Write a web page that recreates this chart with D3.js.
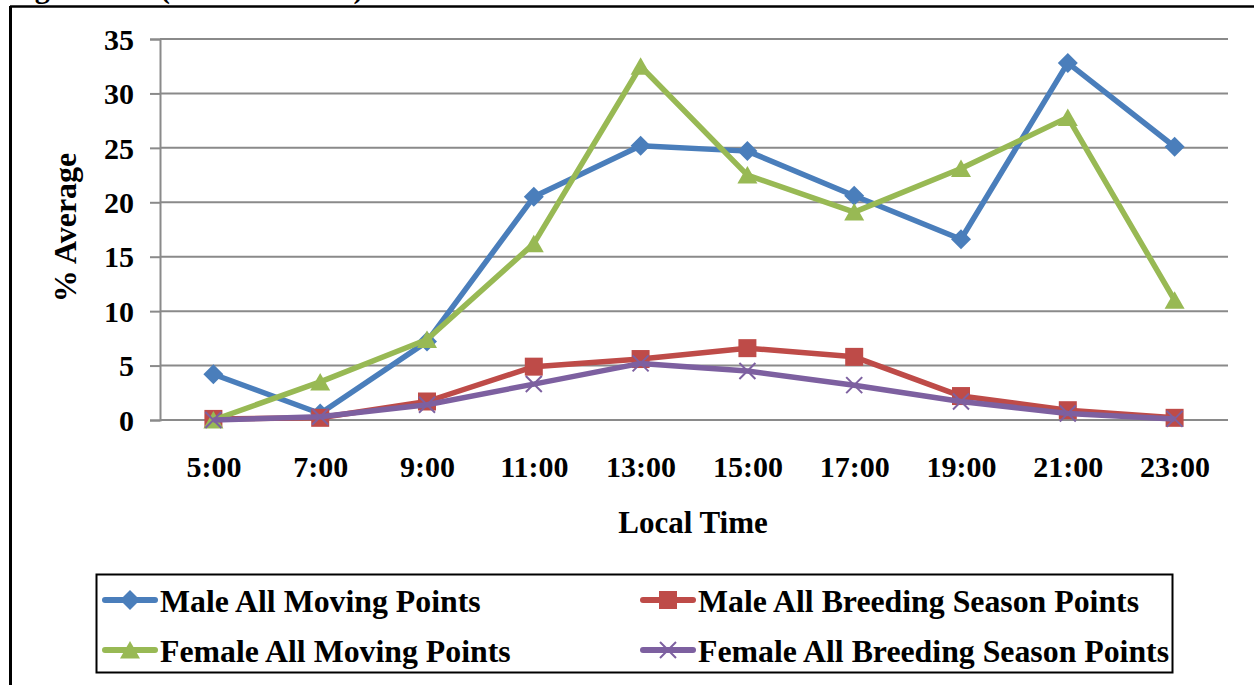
<!DOCTYPE html>
<html>
<head>
<meta charset="utf-8">
<script src="https://cdn.jsdelivr.net/npm/d3@7"></script>
<style>
  html, body { margin: 0; padding: 0; background: #fff; }
  svg { display: block; font-family: "Liberation Serif", "Times New Roman", serif; font-weight: bold; }
</style>
</head>
<body>
<svg id="chart" width="1254" height="685"></svg>
<script>
// Hour-of-day categories (local time)
const times = ["5:00", "7:00", "9:00", "11:00", "13:00", "15:00", "17:00", "19:00", "21:00", "23:00"];

// % average of points per time slot
const maleMoving     = [4.2, 0.6, 7.2, 20.5, 25.2, 24.7, 20.6, 16.6, 32.8, 25.1];
const maleBreeding   = [0.1, 0.2, 1.7, 4.9, 5.6, 6.6, 5.8, 2.2, 0.9, 0.2];
const femaleMoving   = [0.0, 3.5, 7.4, 16.2, 32.5, 22.5, 19.1, 23.1, 27.8, 11.0];
const femaleBreeding = [0.0, 0.3, 1.4, 3.3, 5.2, 4.5, 3.2, 1.7, 0.6, 0.1];

const yTicks = [0, 5, 10, 15, 20, 25, 30, 35];

const seriesNames = [
  "Male All Moving Points",
  "Male All Breeding Season Points",
  "Female All Moving Points",
  "Female All Breeding Season Points"
];

const series = [
  { name: seriesNames[0], values: maleMoving,     color: "#4A7EBB", marker: "diamond" },
  { name: seriesNames[1], values: maleBreeding,   color: "#BE4B48", marker: "square" },
  { name: seriesNames[2], values: femaleMoving,   color: "#98B954", marker: "triangle" },
  { name: seriesNames[3], values: femaleBreeding, color: "#7D60A0", marker: "x" }
];

const svg = d3.select("#chart");

// Caption line above the frame (only its descenders fall inside the page)
svg.append("text")
  .attr("x", 8).attr("y", -2)
  .attr("font-size", 30)
  .attr("fill", "#000")
  .text("Figure 4.12 (Tracked Birds)");

// Outer frame
svg.append("line").attr("x1", 10).attr("x2", 1254).attr("y1", 6.5).attr("y2", 6.5)
  .attr("stroke", "#000").attr("stroke-width", 2.5);
svg.append("line").attr("x1", 10.5).attr("x2", 10.5).attr("y1", 6).attr("y2", 685)
  .attr("stroke", "#000").attr("stroke-width", 3);

const plotLeft = 160, plotRight = 1228, plotTop = 39, plotBottom = 420;

const x = d3.scalePoint().domain(times).range([plotLeft, plotRight]).padding(0.5);
const y = d3.scaleLinear().domain([0, 35]).range([plotBottom, plotTop]);

// Horizontal gridlines
svg.append("g")
  .selectAll("line")
  .data(yTicks)
  .join("line")
  .attr("x1", plotLeft).attr("x2", plotRight)
  .attr("y1", d => y(d)).attr("y2", d => y(d))
  .attr("stroke", "#8A8A8A").attr("stroke-width", 2);

// Y axis with outward ticks
const yAxis = svg.append("g")
  .attr("transform", `translate(${plotLeft},0)`)
  .call(d3.axisLeft(y).tickValues(yTicks).tickSize(10).tickPadding(16).tickFormat(d3.format("d")));
yAxis.select(".domain").attr("stroke", "#8A8A8A").attr("stroke-width", 2);
yAxis.selectAll(".tick line").attr("stroke", "#8A8A8A").attr("stroke-width", 2);
yAxis.selectAll(".tick text")
  .attr("font-size", 30).attr("font-family", "Liberation Serif").attr("font-weight", "bold")
  .attr("fill", "#000").attr("dy", "0.34em");

// X axis labels
const xAxis = svg.append("g")
  .attr("transform", `translate(0,${plotBottom})`)
  .call(d3.axisBottom(x).tickSize(0).tickPadding(36));
xAxis.select(".domain").remove();
xAxis.selectAll(".tick text")
  .attr("font-size", 30).attr("font-family", "Liberation Serif").attr("font-weight", "bold")
  .attr("fill", "#000").attr("dy", "0.71em").attr("y", 36);
// Category axis line
svg.append("line").attr("x1", plotLeft).attr("x2", plotRight).attr("y1", plotBottom).attr("y2", plotBottom)
  .attr("stroke", "#8A8A8A").attr("stroke-width", 2);

// Axis titles
svg.append("text")
  .attr("x", (plotLeft + plotRight) / 2 - 1).attr("y", 533)
  .attr("text-anchor", "middle").attr("font-size", 31)
  .text("Local Time");
svg.append("text")
  .attr("transform", `translate(76,${(plotTop + plotBottom) / 2 - 2}) rotate(-90)`)
  .attr("text-anchor", "middle").attr("font-size", 32)
  .text("% Average");

// Marker shapes, each centred on its data point
function markerPath(type) {
  switch (type) {
    case "diamond": return "M0,-10L10,0L0,10L-10,0Z";
    case "square": return "M-9,-9H9V9H-9Z";
    case "triangle": return "M0,-9L10,8.5L-10,8.5Z";
    case "x": return "M-8,-8L8,8M-8,8L8,-8";
  }
}
function drawMarker(g, type, color) {
  const p = g.append("path").attr("d", markerPath(type));
  if (type === "x") {
    p.attr("fill", "none").attr("stroke", color).attr("stroke-width", 2);
  } else {
    p.attr("fill", color);
  }
}

const line = d3.line()
  .x((d, i) => x(times[i]))
  .y(d => y(d));

series.forEach(s => {
  const g = svg.append("g");
  g.append("path")
    .datum(s.values)
    .attr("d", line)
    .attr("fill", "none")
    .attr("stroke", s.color)
    .attr("stroke-width", 5.5)
    .attr("stroke-linejoin", "round");
  g.selectAll("g.pt")
    .data(s.values)
    .join("g")
    .attr("class", "pt")
    .attr("transform", (d, i) => `translate(${x(times[i])},${y(d)})`)
    .each(function() { drawMarker(d3.select(this), s.marker, s.color); });
});

// Legend
svg.append("rect")
  .attr("x", 96.5).attr("y", 574.5).attr("width", 1076).attr("height", 98)
  .attr("fill", "none").attr("stroke", "#000").attr("stroke-width", 2);

const legendPos = [
  { lx: 102, ly: 600 },
  { lx: 640, ly: 600 },
  { lx: 102, ly: 650 },
  { lx: 640, ly: 650 }
];
series.forEach((s, i) => {
  const p = legendPos[i];
  const g = svg.append("g").attr("transform", `translate(${p.lx},${p.ly})`);
  g.append("line").attr("x1", 3).attr("x2", 53).attr("y1", 0).attr("y2", 0)
    .attr("stroke", s.color).attr("stroke-width", 6).attr("stroke-linecap", "round");
  const m = g.append("g").attr("transform", "translate(28,0)");
  drawMarker(m, s.marker, s.color);
  g.append("text")
    .attr("x", 58).attr("y", 12)
    .attr("font-size", 31.8)
    .text(s.name);
});
</script>
</body>
</html>
